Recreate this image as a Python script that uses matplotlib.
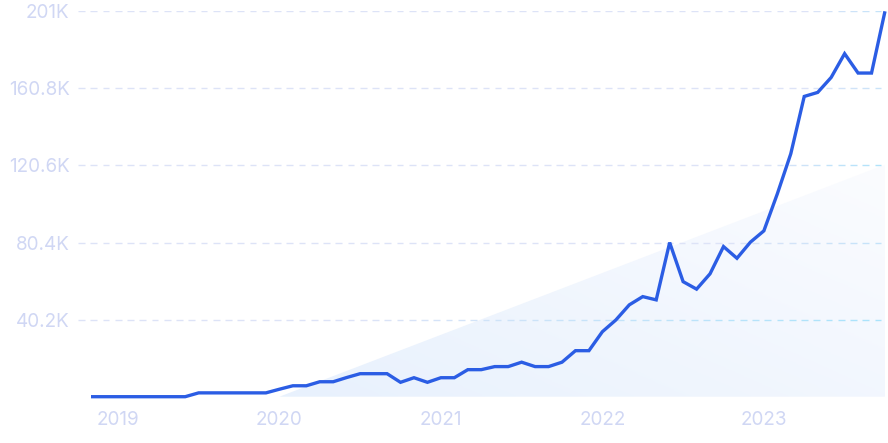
import matplotlib
matplotlib.use("Agg")
import matplotlib.pyplot as plt
import numpy as np
from matplotlib.patches import Polygon
from matplotlib.colors import LinearSegmentedColormap, to_rgb

# Monthly values (thousands), Nov 2018 .. Oct 2023
values = [0, 0, 0, 0, 0, 0, 0, 0, 2.0, 2.0,
          2.0, 2.0, 2.0, 2.0, 3.9, 5.7, 5.7, 7.8, 7.8, 10.0,
          12.0, 12.0, 12.0, 7.5, 9.9, 7.5, 9.9, 9.9, 14.1, 14.1,
          15.7, 15.7, 18.0, 15.7, 15.7, 18.0, 24.0, 24.0, 33.9, 40.0,
          47.9, 52.2, 50.5, 80.4, 60.0, 56.1, 64.1, 78.3, 72.2, 80.6,
          86.5, 105.8, 126.7, 156.6, 158.7, 166.5, 178.9, 168.8, 168.8, 201.0]
year_labels = ["2019", "2020", "2021", "2022", "2023"]
year_index = [2, 14, 26, 38, 50]
y_ticks = [40.2, 80.4, 120.6, 160.8, 201]
y_tick_labels = ["40.2K", "80.4K", "120.6K", "160.8K", "201K"]
trend_start = (14, 0.0)
trend_end = (59, 121.0)

x = np.arange(len(values))

fig = plt.figure(figsize=(8.88, 4.43), dpi=100)
ax = fig.add_axes([78/888, 1-396.7/443, (887-78)/888, (396.7-11.3)/443])
ax.set_xlim(-0.966, 59.15)
ax.set_ylim(0, 201)

for s in ax.spines.values():
    s.set_visible(False)

# gridlines with horizontal gradient lavender -> cyan
lav = np.array(to_rgb("#dde3f7"))
cyan = np.array(to_rgb("#a9e3fb"))
mix_map = {40.2: (0.35, 1.0), 80.4: (0.8, 0.5), 120.6: (0.85, 0.9), 160.8: (0.9, 0.4), 201: (0.9, 0.5)}
xl0, xl1 = ax.get_xlim()
for yt in y_ticks:
    start, amt = mix_map[yt]
    n_seg = 66
    edges = np.linspace(xl0, xl1, n_seg + 1)
    for k in range(n_seg):
        frac = (k + 0.5) / n_seg
        t = 0.0 if frac < start else min(1.0, (frac - start) / max(1e-6, (1 - start))) * amt
        col = lav * (1 - t) + cyan * t
        a, b = edges[k], edges[k + 1]
        seg_len = b - a
        ax.plot([a, a + 0.55 * seg_len], [yt, yt], color=col, lw=1.0,
                solid_capstyle="butt", zorder=1)

# trend triangle with gradient fill
tri = Polygon([trend_start, trend_end, (trend_end[0], 0)], closed=True,
              facecolor="none", edgecolor="none")
ax.add_patch(tri)
cmap = LinearSegmentedColormap.from_list("g", ["#e8f1fd", "#fbfcff"])
gx, gy = np.meshgrid(np.linspace(0, 1, 200), np.linspace(0, 1, 200))
grad = (gx * 0.7 + (1 - gy) * 0.6)
im = ax.imshow(grad, extent=[trend_start[0], trend_end[0], 0, trend_end[1]],
               origin="upper", cmap=cmap, aspect="auto", zorder=0.5,
               interpolation="bilinear")
im.set_clip_path(tri)

ax.plot(x, values, color="#2b5de4", lw=2.4, solid_joinstyle="miter",
        solid_capstyle="butt", zorder=3, clip_on=False)

ax.set_yticks(y_ticks)
ax.set_yticklabels(y_tick_labels)
ax.set_xticks(year_index)
ax.set_xticklabels(year_labels)
ax.tick_params(axis="both", length=0, labelcolor="#d0d7f4", labelsize=13.6)
ax.tick_params(axis="y", pad=6)
ax.tick_params(axis="x", pad=10)
for lab in ax.get_xticklabels() + ax.get_yticklabels():
    lab.set_fontfamily(["Inter", "DejaVu Sans"])

fig.savefig("out.png", dpi=100)
